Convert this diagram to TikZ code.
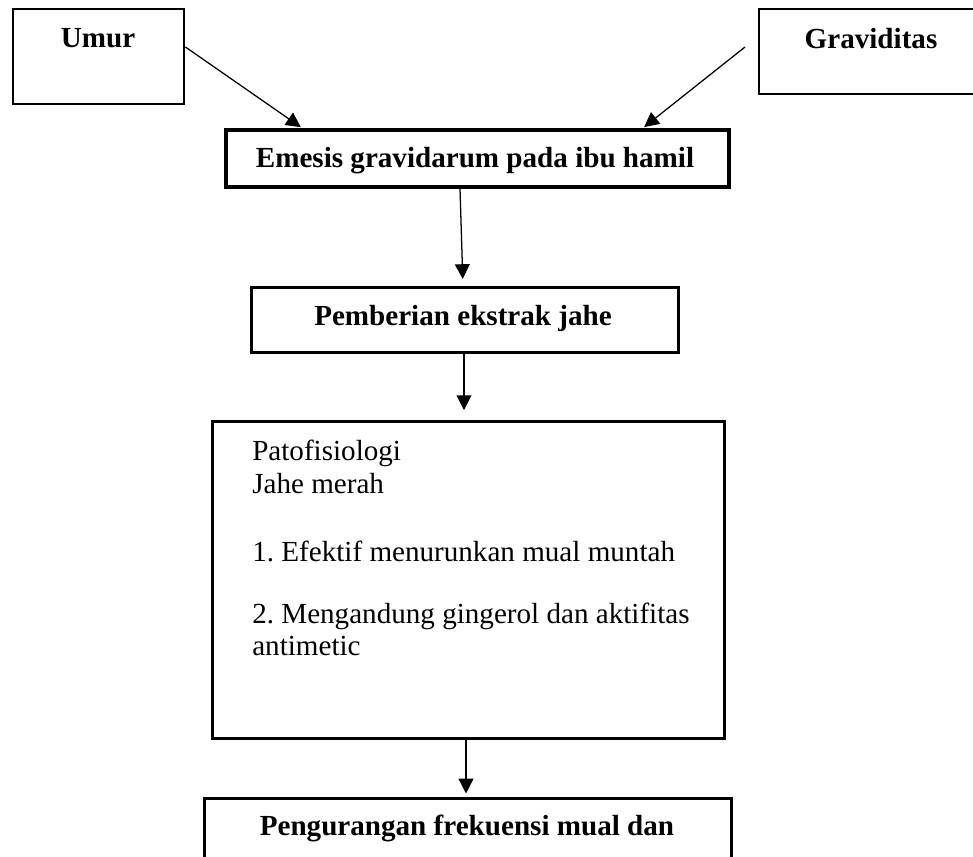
\documentclass[tikz,border=0pt]{standalone}
\usepackage{fontspec}
\setmainfont{Liberation Serif}[Ligatures=CommonOff]
\usetikzlibrary{arrows.meta}
\frenchspacing
\newcommand{\pxl}{0.025cm}
\tikzset{
  box/.style={draw, line width=1.7pt, inner sep=0pt, anchor=north west},
  thickbox/.style={box, line width=2.5pt},
  lbl/.style={font=\fontsize{20.7}{24}\selectfont\bfseries, inner sep=0pt, anchor=base},
  txt/.style={font=\fontsize{20.7}{24}\selectfont, inner sep=0pt, anchor=base west},
  arr/.style={-{Triangle[length=10.5pt, width=10.5pt]}, line width=0.9pt}
}

\begin{document}
\begin{tikzpicture}[x=\pxl, y=-\pxl]
\useasboundingbox (0,0) rectangle (973,856);
\clip (0,0) rectangle (973,856);
\node[box, minimum width=171*\pxl, minimum height=95*\pxl] (umur) at (12,8) {};
\node[box, minimum width=240*\pxl, minimum height=85*\pxl] (grav) at (758,8) {};
\node[thickbox, minimum width=503*\pxl, minimum height=57*\pxl] (emesis) at (224,128) {};
\node[thickbox, line width=2.3pt, minimum width=427*\pxl, minimum height=65*\pxl] (pemberian) at (250,286) {};
\node[thickbox, line width=2.3pt, minimum width=512*\pxl, minimum height=317*\pxl] (pato) at (211,420) {};
\node[thickbox, line width=2.3pt, minimum width=527*\pxl, minimum height=120*\pxl] (last) at (203,797) {};
\node[lbl] (umurtxt) at (98,47) {Umur};
\node[lbl] (gravtxt) at (871,48) {Graviditas};
\node[lbl] (emesistxt) at (475,167) {Emesis gravidarum pada ibu hamil};
\node[lbl] (pembtxt) at (463,325) {Pemberian ekstrak jahe};
\node[txt] (pato1) at (252,460) {Patofisiologi};
\node[txt] (pato2) at (252,493) {Jahe merah};
\node[txt] (pato3) at (252,561) {1. Efektif menurunkan mual muntah};
\node[txt] (pato4) at (252,623) {2. Mengandung gingerol dan aktifitas};
\node[txt] (pato5) at (252,655) {antimetic};
\node[lbl] (lasttxt) at (467,835) {Pengurangan frekuensi mual dan};
\coordinate (gravTail) at (745,47);
\draw[arr, shorten >=1pt] (umur.east |- umurtxt.base) -- (emesis.north -| 302,0);
\draw[arr, shorten >=1pt] (gravTail) -- (emesis.north -| 643,0);
\draw[arr, shorten >=5pt] (emesis.south -| 460,0) -- (pemberian.north -| 463,0);
\draw[arr, shorten >=7pt] (pemberian.south -| 464,0) -- (pato.north -| 464,0);
\draw[arr, shorten >=2.5pt] (pato.south -| 466,0) -- (last.north -| 466,0);
\end{tikzpicture}
\end{document}
